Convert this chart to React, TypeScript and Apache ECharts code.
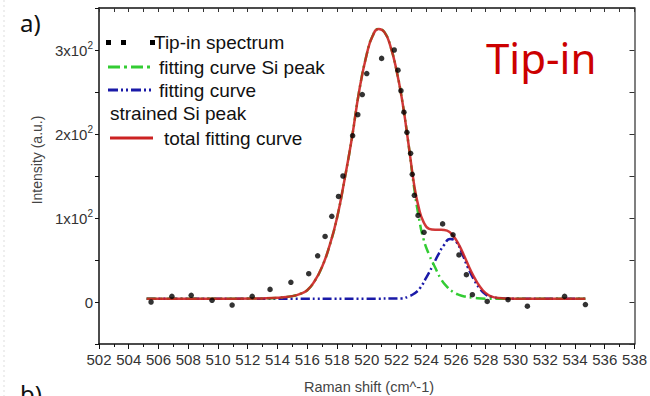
import React, { useEffect, useRef } from "react";
import * as echarts from "echarts";

// Measured spectrum (Tip-in)
const spectrumX = [505.5, 506.9, 508.2, 509.6, 510.95, 512.3, 513.5, 514.9, 516.1, 516.7, 517.2, 517.65, 518.1, 518.4, 519.05, 519.4, 519.7, 520.0, 521.0, 521.85, 522.1, 522.3, 522.5, 522.7, 522.95, 523.06, 523.2, 523.45, 523.85, 525.1, 525.8, 526.2, 526.7, 527.1, 528.1, 529.5, 530.8, 533.3, 534.7];
const spectrumY = [0, 6.7, 8, 2, -3.6, 6.7, 15, 23.4, 33.7, 55, 78, 102, 125.7, 150, 198, 223, 247, 272, 290, 300, 276, 251.5, 226, 202, 177, 152, 127, 103, 83, 93, 80, 56, 32.5, 8.7, 0.7, 2.7, -5, 6.7, -3];

// Fitting curve Si peak (green)
const siFitX = [505.2, 508, 511, 513, 514, 515, 515.5, 516, 516.5, 517, 517.5, 518, 518.5, 519, 519.5, 520, 520.4, 520.8, 521.2, 521.6, 522, 522.4, 522.8, 523.2, 523.5, 523.8, 524.2, 524.6, 525, 525.4, 525.8, 526.2, 526.6, 527.2, 528, 529, 530, 532, 534.7];
const siFitY = [4, 4, 4, 4.3, 5, 7, 9.5, 14, 25, 42, 67, 100, 145, 195, 252, 295, 317, 325, 321, 304, 276, 238, 189, 134, 101, 76, 56, 41, 27, 18, 12, 8.5, 6.5, 5, 4, 4, 4, 4, 4];

// Fitting curve strained Si peak (blue)
const strainedFitX = [505.2, 510, 515, 520, 522.4, 522.8, 523.2, 523.6, 524, 524.4, 524.8, 525.2, 525.6, 526, 526.4, 526.8, 527.2, 527.6, 528, 528.4, 528.9, 529.5, 532, 534.7];
const strainedFitY = [4, 4, 4, 4, 4.3, 6.5, 10, 17, 29, 42, 56, 68, 75, 72, 58, 41, 27, 16, 9, 6, 4.5, 4, 4, 4];

// Total fitting curve (red)
const totalFitX = [505.2, 508, 511, 513, 514, 515, 515.5, 516, 516.5, 517, 517.5, 518, 518.5, 519, 519.5, 520, 520.4, 520.8, 521.2, 521.6, 522, 522.4, 522.8, 523.2, 523.5, 523.8, 524.2, 524.6, 525, 525.4, 525.8, 526.2, 526.6, 527, 527.4, 527.8, 528.2, 528.6, 529.2, 530, 532, 534.7];
const totalFitY = [4, 4, 4, 4.3, 5, 7, 9.5, 14, 25, 42, 67, 100, 145, 195, 252, 295, 317, 325, 321, 304, 276, 238, 189, 138, 112, 96, 87, 86, 86, 85, 79, 68, 53, 37, 24, 14, 8, 5.5, 4.3, 4, 4, 4];

const legendLabels = ["Tip-in spectrum", "fitting curve Si peak", "fitting curve", "strained Si peak", "total fitting curve"];

const zip = (xs: number[], ys: number[]) => xs.map((x, i) => [x, ys[i]]);

const SANS = '"Liberation Sans", Arial, sans-serif';

export default function App() {
  const ref = useRef<HTMLDivElement>(null);
  useEffect(() => {
    if (!ref.current) return;
    const chart = echarts.init(ref.current, undefined, { renderer: "svg" });
    const axisCommon = { min: 502, max: 538 };
    const yCommon = { min: -50, max: 350, interval: 50 };
    chart.setOption({
      animation: false,
      backgroundColor: "#ffffff",
      grid: { left: 99, right: 13, top: 8, bottom: 52, containLabel: false },
      xAxis: [
        {
          type: "value",
          ...axisCommon,
          interval: 2,
          position: "bottom",
          axisLine: { show: true, onZero: false, lineStyle: { color: "#111", width: 1.5 } },
          axisTick: { show: true, length: 5, lineStyle: { color: "#111", width: 1 } },
          minorTick: { show: true, splitNumber: 2, length: 3, lineStyle: { color: "#111" } },
          splitLine: { show: false },
          axisLabel: { fontSize: 15, color: "#333", margin: 8, fontFamily: SANS },
        },
        {
          type: "value",
          ...axisCommon,
          interval: 1,
          position: "top",
          axisLine: { show: true, onZero: false, lineStyle: { color: "#111", width: 1.5 } },
          axisTick: { show: true, inside: true, length: 4, lineStyle: { color: "#333" } },
          splitLine: { show: false },
          axisLabel: { show: false },
        },
      ],
      yAxis: [
        {
          type: "value",
          ...yCommon,
          position: "left",
          axisLine: { show: true, onZero: false, lineStyle: { color: "#111", width: 1.5 } },
          axisTick: { show: true, length: 4, lineStyle: { color: "#111" } },
          splitLine: { show: false },
          axisLabel: {
            margin: 6,
            fontFamily: SANS,
            formatter: (v: number) => {
              if (v % 100 !== 0) return "";
              if (v === 0) return "{n|0}";
              if (v < 0) return "";
              return `{n|${v / 100}x10}{sup|2}`;
            },
            rich: {
              n: { fontSize: 15, color: "#333", fontFamily: SANS },
              sup: { fontSize: 10, color: "#333", fontFamily: SANS, padding: [0, 0, 9, 0] },
            },
          },
        },
        {
          type: "value",
          ...yCommon,
          position: "right",
          axisLine: { show: true, onZero: false, lineStyle: { color: "#555", width: 1.5 } },
          axisTick: { show: true, inside: true, length: 5, lineStyle: { color: "#333" } },
          splitLine: { show: false },
          axisLabel: { show: false },
        },
      ],
      series: [
        {
          name: legendLabels[2],
          type: "line",
          data: zip(strainedFitX, strainedFitY),
          showSymbol: false,
          smooth: 0.5,
          lineStyle: { color: "#1a1aa8", width: 2.5, type: [9, 3, 2, 3, 2, 3] },
          z: 2,
        },
        {
          name: legendLabels[1],
          type: "line",
          data: zip(siFitX, siFitY),
          showSymbol: false,
          smooth: 0.5,
          lineStyle: { color: "#33cc33", width: 2.5, type: [10, 4, 2, 4] },
          z: 3,
        },
        {
          name: legendLabels[4],
          type: "line",
          data: zip(totalFitX, totalFitY),
          showSymbol: false,
          smooth: 0.5,
          lineStyle: { color: "#cc2222", width: 2.5, opacity: 0.9 },
          z: 4,
        },
        {
          name: legendLabels[0],
          type: "scatter",
          data: zip(spectrumX, spectrumY),
          symbol: "circle",
          symbolSize: 5.5,
          itemStyle: { color: "#000" },
          z: 5,
        },
      ],
      graphic: [
        { type: "line", shape: { x1: 4, y1: 0, x2: 4, y2: 396 }, style: { stroke: "#dddddd", lineWidth: 1, lineDash: [2, 3] } },
        { type: "text", x: 20, y: 22, style: { text: "a)", fontSize: 24, fontFamily: '"Noto Sans", sans-serif', fill: "#111", align: "left", verticalAlign: "middle" } },
        { type: "text", x: 20, y: 393, style: { text: "b)", fontSize: 24, fontFamily: '"Noto Sans", sans-serif', fill: "#111", align: "left", verticalAlign: "middle" } },
        { type: "text", x: 486, y: 57, style: { text: "Tip-in", fontSize: 42, fontFamily: '"Noto Sans", sans-serif', fill: "#cc0000", align: "left", verticalAlign: "middle" } },
        { type: "text", x: 37, y: 160, rotation: Math.PI / 2, style: { text: "Intensity (a.u.)", fontSize: 14, fontFamily: SANS, fill: "#444", align: "center", verticalAlign: "middle" } },
        { type: "text", x: 369, y: 387, style: { text: "Raman shift (cm^-1)", fontSize: 14.5, fontFamily: SANS, fill: "#444", align: "center", verticalAlign: "middle" } },
        // legend
        { type: "rect", shape: { x: 106, y: 40, width: 5, height: 5 }, style: { fill: "#000" } },
        { type: "rect", shape: { x: 121, y: 40, width: 5, height: 5 }, style: { fill: "#000" } },
        { type: "rect", shape: { x: 150, y: 40, width: 5, height: 5 }, style: { fill: "#000" } },
        { type: "text", x: 154, y: 42, style: { text: legendLabels[0], fontSize: 19, fontFamily: SANS, fill: "#111", align: "left", verticalAlign: "middle" } },
        { type: "line", shape: { x1: 108, y1: 67, x2: 153, y2: 67 }, style: { stroke: "#33cc33", lineWidth: 3, lineDash: [12, 4, 3, 4] } },
        { type: "text", x: 159, y: 67, style: { text: legendLabels[1], fontSize: 19, fontFamily: SANS, fill: "#111", align: "left", verticalAlign: "middle" } },
        { type: "line", shape: { x1: 108, y1: 90, x2: 153, y2: 90 }, style: { stroke: "#1a1aa8", lineWidth: 3, lineDash: [10, 3, 2, 3, 2, 3] } },
        { type: "text", x: 159, y: 90, style: { text: legendLabels[2], fontSize: 19, fontFamily: SANS, fill: "#111", align: "left", verticalAlign: "middle" } },
        { type: "text", x: 110, y: 113, style: { text: legendLabels[3], fontSize: 19, fontFamily: SANS, fill: "#111", align: "left", verticalAlign: "middle" } },
        { type: "line", shape: { x1: 110, y1: 138, x2: 153, y2: 138 }, style: { stroke: "#cc2222", lineWidth: 3 } },
        { type: "text", x: 164, y: 138, style: { text: legendLabels[4], fontSize: 19, fontFamily: SANS, fill: "#111", align: "left", verticalAlign: "middle" } },
      ],
    });
    return () => chart.dispose();
  }, []);
  return (
    <div
      ref={ref}
      style={{ position: "fixed", left: 0, top: 0, width: 650, height: 396, background: "#fff" }}
    />
  );
}
